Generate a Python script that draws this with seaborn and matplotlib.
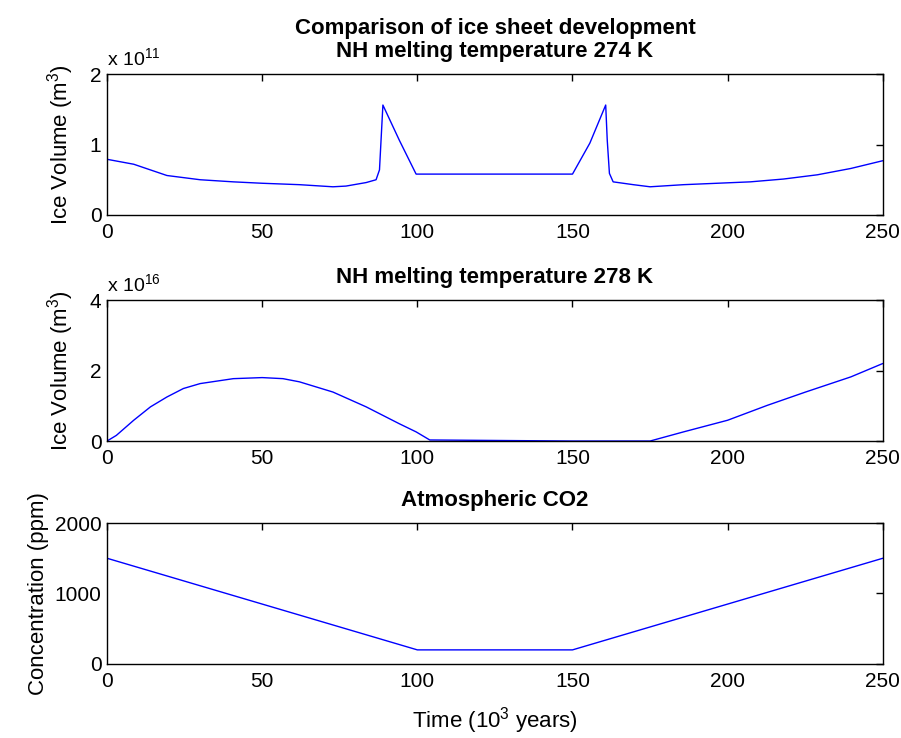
import matplotlib
matplotlib.use("Agg")
import matplotlib.pyplot as plt
import seaborn as sns
import pandas as pd

# ---- data ----
t274 = [0, 8.6, 19.3, 30, 40.7, 50, 62, 72.8, 77, 83.5, 86.7, 87.8, 88.9, 94.2, 99.6,
        150, 155.6, 160.7, 161.2, 161.9, 163.1, 169.6, 175, 185.8, 196.6, 207.3, 218,
        228.9, 239.7, 250]
ice274_e11 = [0.79, 0.72, 0.56, 0.50, 0.47, 0.45, 0.43, 0.40, 0.41, 0.46, 0.50, 0.64, 1.56,
              1.06, 0.58, 0.58, 1.02, 1.56, 1.06, 0.59, 0.47, 0.43, 0.40, 0.43, 0.45, 0.47,
              0.51, 0.57, 0.66, 0.77]

t278 = [0, 3, 8.6, 14, 19.3, 24.6, 30, 40.7, 50, 56.7, 62, 72.8, 83.5, 94.2, 99.6, 104,
        150, 175, 185.8, 200, 212.7, 225.1, 239.7, 250]
ice278_e16 = [0, 0.16, 0.59, 0.97, 1.25, 1.49, 1.63, 1.77, 1.80, 1.77, 1.68, 1.39, 0.97,
              0.49, 0.26, 0.03, 0, 0, 0.26, 0.59, 1.01, 1.39, 1.82, 2.2]

t_co2 = [0, 100, 150, 250]
co2_ppm = [1500, 200, 200, 1500]

xticks = [0, 50, 100, 150, 200, 250]
yticks_top = [0, 1, 2]
yticks_mid = [0, 2, 4]
yticks_bot = [0, 1000, 2000]

titles = ["Comparison of ice sheet development\nNH melting temperature 274 K",
          "NH melting temperature 278 K",
          "Atmospheric CO2"]

# ---- style ----
sns.set_theme(style="white")
plt.rcParams['font.family'] = ['Liberation Sans', 'DejaVu Sans']
plt.rcParams['mathtext.fontset'] = 'custom'
plt.rcParams['mathtext.rm'] = 'Liberation Sans'
plt.rcParams['mathtext.it'] = 'Liberation Sans'
plt.rcParams['text.color'] = 'black'
plt.rcParams['axes.labelcolor'] = 'black'

fig = plt.figure(figsize=(9.01, 7.38), dpi=100)
L, W, H = 0.1188, 0.861, 0.191
bottoms = [0.7087, 0.4024, 0.1003]
axes = [fig.add_axes([L, b, W, H]) for b in bottoms]

dfs = [pd.DataFrame({"t": t274, "v": ice274_e11}),
       pd.DataFrame({"t": t278, "v": ice278_e16}),
       pd.DataFrame({"t": t_co2, "v": co2_ppm})]
yt = [yticks_top, yticks_mid, yticks_bot]
ylabels = ["Ice Volume (m$^3$)", "Ice Volume (m$^3$)", "Concentration (ppm)"]
offsets = ["x 10$^{11}$", "x 10$^{16}$", None]
lpads = [10, 10, 4]

for ax, df, ticks, title, ylab, off, lp in zip(axes, dfs, yt, titles, ylabels, offsets, lpads):
    sns.lineplot(data=df, x="t", y="v", ax=ax, color=(0, 0, 1), linewidth=1.0)
    ax.set_xlim(0, 250)
    ax.set_ylim(ticks[0], ticks[-1])
    ax.set_xticks(xticks)
    ax.set_yticks(ticks)
    ax.set_xticklabels([str(x) for x in xticks])
    ax.set_yticklabels([str(y) for y in ticks])
    ax.tick_params(direction="in", length=5, width=1, top=True, right=True,
                   labelsize=15, colors="black")
    ax.tick_params(axis="x", pad=6)
    ax.tick_params(axis="y", pad=4)
    for s in ax.spines.values():
        s.set_visible(True)
        s.set_color("black")
        s.set_linewidth(1.0)
    ax.set_xlabel("")
    ax.set_ylabel(ylab, fontsize=16, labelpad=lp)
    ax.set_title(title, fontsize=16, fontweight="bold", pad=12, linespacing=1.15,
                 color="black")
    if off:
        ax.text(0.0, 1.035, off, transform=ax.transAxes, fontsize=14, ha="left",
                va="bottom", color="black")

axes[2].set_xlabel("Time (10$^3$ years)", fontsize=16, labelpad=10)

fig.savefig("out.png", dpi=100, facecolor="white")
